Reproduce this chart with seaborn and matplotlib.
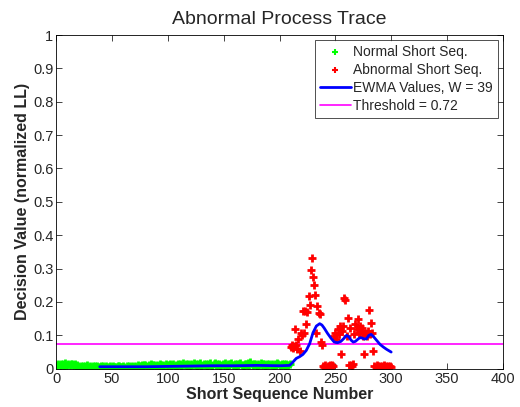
import pandas as pd
import seaborn as sns
import matplotlib.pyplot as plt
import numpy as np

# Normal short sequences (x = 1..209)
normal_y = [0.012, 0.014, 0.010, 0.015, 0.011, 0.013, 0.009, 0.016, 0.012, 0.010, 0.014, 0.011, 0.013, 0.015, 0.010, 0.012, 0.014, 0.009, 0.011,
            0.008, 0.006, 0.009, 0.005, 0.007, 0.004, 0.008, 0.006, 0.010, 0.005, 0.007, 0.003, 0.006, 0.008, 0.005, 0.009, 0.004, 0.007, 0.006,
            0.005, 0.008, 0.004, 0.007, 0.003, 0.006, 0.009, 0.005, 0.004, 0.007, 0.006, 0.003, 0.008, 0.005, 0.006, 0.004, 0.007, 0.009, 0.005,
            0.006, 0.004, 0.008, 0.005, 0.003, 0.007, 0.006, 0.009, 0.004, 0.005, 0.008, 0.006, 0.004, 0.007, 0.005, 0.010, 0.006, 0.008, 0.009,
            0.011, 0.007, 0.010, 0.012, 0.008, 0.006, 0.011, 0.009, 0.013, 0.007, 0.010, 0.012, 0.008, 0.011, 0.006, 0.009, 0.013, 0.010, 0.007,
            0.012, 0.009, 0.014, 0.008, 0.011, 0.010, 0.013, 0.006, 0.012, 0.015, 0.009, 0.011, 0.007, 0.013, 0.010, 0.014, 0.008, 0.012, 0.016,
            0.010, 0.013, 0.009, 0.015, 0.011, 0.007, 0.014, 0.012, 0.017, 0.010, 0.013, 0.008, 0.015, 0.011, 0.016, 0.009, 0.012, 0.014, 0.010,
            0.013, 0.008, 0.015, 0.011, 0.017, 0.012, 0.009, 0.014, 0.016, 0.010, 0.013, 0.011, 0.015, 0.008, 0.012, 0.014, 0.010, 0.016, 0.012,
            0.009, 0.014, 0.011, 0.013, 0.016, 0.010, 0.012, 0.015, 0.008, 0.013, 0.011, 0.014, 0.017, 0.010, 0.012, 0.009, 0.015, 0.013, 0.011,
            0.016, 0.012, 0.019, 0.014, 0.010, 0.013, 0.015, 0.011, 0.008, 0.014, 0.012, 0.016, 0.010, 0.013, 0.015, 0.009, 0.012, 0.014, 0.011,
            0.013, 0.010, 0.015, 0.012, 0.009, 0.014, 0.011, 0.016, 0.013, 0.010, 0.012, 0.015, 0.011, 0.013, 0.009, 0.014, 0.012, 0.010, 0.013]
normal_x = list(range(1, len(normal_y) + 1))

# Abnormal short sequences (x = 210..300)
abnormal_y = [0.066, 0.070, 0.062, 0.068, 0.118, 0.072, 0.060, 0.088, 0.053, 0.108,
              0.100, 0.172, 0.108, 0.172, 0.133, 0.169, 0.219, 0.192, 0.297, 0.332,
              0.275, 0.252, 0.222, 0.108, 0.187, 0.167, 0.165, 0.080, 0.070, 0.008,
              0.006, 0.010, 0.005, 0.009, 0.007, 0.011, 0.006, 0.012, 0.009, 0.098,
              0.108, 0.088, 0.118, 0.103, 0.128, 0.043, 0.113, 0.128, 0.212, 0.207,
              0.098, 0.153, 0.010, 0.123, 0.012, 0.008, 0.015, 0.103, 0.133, 0.118,
              0.148, 0.108, 0.128, 0.113, 0.123, 0.098, 0.043, 0.108, 0.098, 0.113,
              0.177, 0.103, 0.138, 0.108, 0.053, 0.009, 0.006, 0.010, 0.007, 0.005,
              0.009, 0.006, 0.008, 0.005, 0.010, 0.007, 0.006, 0.009, 0.005, 0.008,
              0.006]
abnormal_x = list(range(210, 210 + len(abnormal_y)))

# EWMA trace
ewma_x = [39, 60, 80, 100, 120, 140, 160, 180, 200, 209, 212, 215, 218, 221, 224, 227, 230, 233,
          236, 238, 240, 243, 246, 249, 252, 255, 258, 260, 262, 264, 266, 268, 270, 272, 274,
          276, 278, 280, 282, 284, 287, 290, 293, 296, 300]
ewma_y = [0.006, 0.006, 0.006, 0.007, 0.008, 0.009, 0.009, 0.010, 0.009, 0.010, 0.020, 0.031,
          0.036, 0.043, 0.055, 0.075, 0.108, 0.128, 0.135, 0.131, 0.122, 0.106, 0.092, 0.080,
          0.078, 0.082, 0.092, 0.100, 0.096, 0.086, 0.080, 0.082, 0.088, 0.093, 0.092, 0.089,
          0.090, 0.100, 0.103, 0.097, 0.085, 0.073, 0.065, 0.058, 0.050]

threshold = 0.075

sns.set_style("white")
plt.rcParams['font.family'] = ['Liberation Sans', 'DejaVu Sans']

fig = plt.figure(figsize=(5.2, 4.07), dpi=100)
ax = fig.add_axes([0.108, 0.094, 0.859, 0.820])

sns.scatterplot(x=normal_x, y=normal_y, marker='+', color='#00ff00', s=28, linewidth=2,
                label='Normal Short Seq.', ax=ax, zorder=2)
sns.scatterplot(x=abnormal_x, y=abnormal_y, marker='+', color='#ff0000', s=28, linewidth=2,
                label='Abnormal Short Seq.', ax=ax, zorder=2)
sns.lineplot(x=ewma_x, y=ewma_y, color='#0000ff', linewidth=2, label='EWMA Values, W = 39',
             ax=ax, zorder=3)
ax.axhline(threshold, color='#ff00ff', linewidth=1.2, label='Threshold = 0.72', zorder=1)

ax.set_xlim(0, 400)
ax.set_ylim(0, 1)
ax.set_xticks(np.arange(0, 401, 50))
ax.set_yticks(np.arange(0, 1.01, 0.1))
ax.set_yticklabels(['0', '0.1', '0.2', '0.3', '0.4', '0.5', '0.6', '0.7', '0.8', '0.9', '1'])
ax.tick_params(direction='in', length=4, width=0.6, labelsize=10.5, top=True, right=True,
               bottom=True, left=True, pad=2)
for sp in ax.spines.values():
    sp.set_color('black')
    sp.set_linewidth(0.6)

ax.set_title('Abnormal Process Trace', fontsize=14, pad=8)
ax.set_xlabel('Short Sequence Number', fontsize=11.5, fontweight='bold', labelpad=1)
ax.set_ylabel('Decision Value (normalized LL)', fontsize=11.5, fontweight='bold', labelpad=2)

leg = ax.legend(loc='upper right', fontsize=10, frameon=True, fancybox=False,
                edgecolor='black', borderaxespad=0.35, handlelength=2.2, handletextpad=0.2,
                labelspacing=0.3, markerscale=0.8, borderpad=0.35)
leg.get_frame().set_linewidth(0.6)
for h in leg.legend_handles[:2]:
    h.set_linewidth(1.5)

fig.savefig('out.png', dpi=100)
